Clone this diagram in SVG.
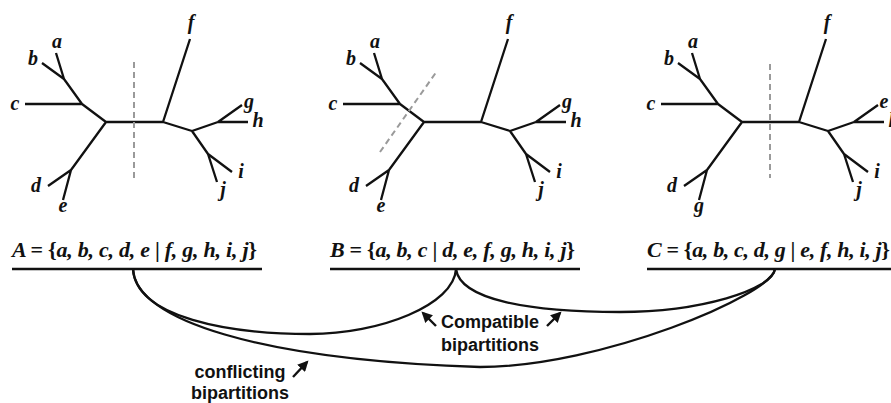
<svg xmlns="http://www.w3.org/2000/svg" width="891" height="403" viewBox="0 0 891 403">
<style>
.edge{fill:none;stroke:#111;stroke-width:2.3;stroke-linecap:butt;stroke-linejoin:round}
.cut{fill:none;stroke:#9a9a9a;stroke-width:2;stroke-dasharray:6 4}
.leaf{font-family:"Liberation Serif",serif;font-style:italic;font-weight:bold;font-size:20px;fill:#111;text-anchor:middle}
.bip{font-family:"Liberation Serif",serif;font-style:italic;font-weight:bold;font-size:22px;fill:#111}
.up{font-style:normal}
.rule{stroke:#111;stroke-width:2.5}
.conn{fill:none;stroke:#111;stroke-width:2.3}
.lab{font-family:"Liberation Sans",Arial,sans-serif;font-weight:bold;font-size:18px;fill:#111;text-anchor:middle}
.arr{stroke:#111;stroke-width:2.4;marker-end:url(#ah)}
</style>
<defs>
<marker id="ah" viewBox="0 0 10 10" refX="8" refY="5" markerWidth="4.5" markerHeight="4.5" orient="auto" markerUnits="strokeWidth">
<path d="M0,0 L10,5 L0,10 Z" fill="#111"/>
</marker>
<path id="tree" class="edge" d="M106,122 L163,122 M106,122 L82,104 L25,104 M82,104 L64,79 L56,53 M64,79 L42,63 M106,122 L71,170 L48,186 M71,170 L63,200 M163,122 L190,39 M163,122 L192,131 L218,122 L242,105 M218,122 L248,122 M192,131 L208,154 L232,172 M208,154 L217,182"/>
</defs>

<g id="treeA">
<use href="#tree"/>
<line class="cut" x1="134" y1="62" x2="134" y2="182"/>
<text class="leaf" x="57" y="48">a</text>
<text class="leaf" x="33" y="65">b</text>
<text class="leaf" x="15" y="110">c</text>
<text class="leaf" x="36" y="192">d</text>
<text class="leaf" x="63" y="212">e</text>
<text class="leaf" x="191" y="29">f</text>
<text class="leaf" x="249" y="108">g</text>
<text class="leaf" x="258" y="127">h</text>
<text class="leaf" x="241" y="178">i</text>
<text class="leaf" x="223" y="196">j</text>
</g>

<g id="treeB">
<use href="#tree" transform="translate(318,0)"/>
<line class="cut" x1="380" y1="152" x2="437" y2="71"/>
<text class="leaf" x="375" y="48">a</text>
<text class="leaf" x="351" y="65">b</text>
<text class="leaf" x="333" y="110">c</text>
<text class="leaf" x="354" y="192">d</text>
<text class="leaf" x="381" y="212">e</text>
<text class="leaf" x="509" y="29">f</text>
<text class="leaf" x="567" y="108">g</text>
<text class="leaf" x="576" y="127">h</text>
<text class="leaf" x="559" y="178">i</text>
<text class="leaf" x="541" y="196">j</text>
</g>

<g id="treeC">
<use href="#tree" transform="translate(636,0)"/>
<line class="cut" x1="770" y1="64" x2="770" y2="178"/>
<text class="leaf" x="693" y="48">a</text>
<text class="leaf" x="669" y="65">b</text>
<text class="leaf" x="651" y="110">c</text>
<text class="leaf" x="672" y="192">d</text>
<text class="leaf" x="699" y="212">g</text>
<text class="leaf" x="827" y="29">f</text>
<text class="leaf" x="884" y="108">e</text>
<text class="leaf" x="894" y="127">h</text>
<text class="leaf" x="877" y="178">i</text>
<text class="leaf" x="859" y="196">j</text>
</g>

<g id="bipA">
<text class="bip" x="12" y="257" textLength="245" lengthAdjust="spacing">A <tspan class="up">= {</tspan>a, b, c, d, e <tspan class="up">|</tspan> f, g, h, i, j<tspan class="up">}</tspan></text>
<line class="rule" x1="12" y1="269" x2="262" y2="269"/>
</g>
<g id="bipB">
<text class="bip" x="330" y="257" textLength="245" lengthAdjust="spacing">B <tspan class="up">= {</tspan>a, b, c <tspan class="up">|</tspan> d, e, f, g, h, i, j<tspan class="up">}</tspan></text>
<line class="rule" x1="330" y1="269" x2="580" y2="269"/>
</g>
<g id="bipC">
<text class="bip" x="647" y="257" textLength="243" lengthAdjust="spacing">C <tspan class="up">= {</tspan>a, b, c, d, g <tspan class="up">|</tspan> e, f, h, i, j<tspan class="up">}</tspan></text>
<line class="rule" x1="647" y1="269" x2="891" y2="269"/>
</g>

<g id="connectors">
<path class="conn" d="M133,269 C136,318 230,334 310,334 C380,334 454,305 456,269"/>
<path class="conn" d="M133,269 C135,320 260,360 480,367 C600,367 772,295 775,269"/>
<path class="conn" d="M456,269 C460,300 530,312 620,312 C700,312 772,290 775,269"/>
<line class="arr" x1="436" y1="326" x2="423" y2="313"/>
<line class="arr" x1="547" y1="326" x2="560" y2="313"/>
<line class="arr" x1="293" y1="377" x2="307" y2="362"/>
</g>

<g id="labelCompatible">
<text class="lab" x="490" y="328">Compatible</text>
<text class="lab" x="490" y="351">bipartitions</text>
</g>
<g id="labelConflicting">
<text class="lab" x="240" y="378">conflicting</text>
<text class="lab" x="240" y="399">bipartitions</text>
</g>
</svg>
